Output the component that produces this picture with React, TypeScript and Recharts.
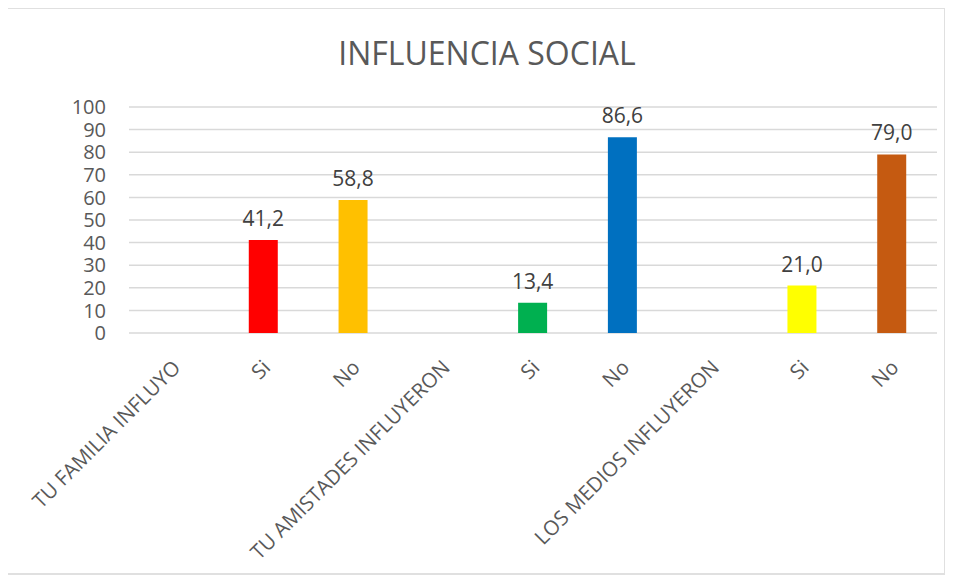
import React from "react";
import { BarChart, Bar, XAxis, YAxis, CartesianGrid, Cell, LabelList } from "recharts";

const categories = [
  "TU FAMILIA INFLUYO",
  "Si",
  "No",
  "TU AMISTADES INFLUYERON",
  "Si",
  "No",
  "LOS MEDIOS INFLUYERON",
  "Si",
  "No",
];
const values: (number | null)[] = [null, 41.2, 58.8, null, 13.4, 86.6, null, 21.0, 79.0];
const barColors = ["#ffffff", "#ff0000", "#ffc000", "#ffffff", "#00b050", "#0070c0", "#ffffff", "#ffff00", "#c55a11"];
const yTicks = [0, 10, 20, 30, 40, 50, 60, 70, 80, 90, 100];

const FONT = "'Open Sans', sans-serif";

const data = categories.map((name, i) => ({ key: `${i}`, name, value: values[i] }));

const XTick = (props: any) => {
  const { x, y, payload } = props;
  const label = categories[Number(payload.value)];
  return (
    <g transform={`translate(${x + 4},${y + 24})`}>
      <text
        x={0}
        y={0}
        transform="rotate(-45)"
        textAnchor="end"
        dominantBaseline="middle"
        fill="#595959"
        fontSize={20.5}
        fontFamily={FONT}
      >
        {label}
      </text>
    </g>
  );
};

export default function App() {
  return (
    <div
      style={{
        position: "relative",
        width: 940,
        height: 568,
        marginLeft: -2,
        marginTop: -1,
        border: "2px solid #e0e0e0",
        boxSizing: "border-box",
        background: "#fff",
      }}
    >
      <div
        style={{
          position: "absolute",
          top: 22,
          left: 11,
          width: "100%",
          textAlign: "center",
          fontFamily: FONT,
          fontSize: 32,
          color: "#595959",
        }}
      >
        INFLUENCIA SOCIAL
      </div>
      <BarChart
        width={936}
        height={564}
        data={data}
        margin={{ top: 98, right: 7, left: 0, bottom: 0 }}
        barCategoryGap={0}
      >
        <CartesianGrid vertical={false} stroke="#d9d9d9" strokeWidth={1.5} />
        <XAxis
          dataKey="key"
          axisLine={false}
          tickLine={false}
          interval={0}
          height={240}
          tick={<XTick />}
        />
        <YAxis
          domain={[0, 100]}
          ticks={yTicks}
          axisLine={false}
          tickLine={false}
          tickSize={0}
          tickMargin={23}
          width={121}
          interval={0}
          tick={{ fill: "#595959", fontSize: 20, fontFamily: FONT }}
        />
        <Bar dataKey="value" barSize={29} isAnimationActive={false}>
          {data.map((d, i) => (
            <Cell key={d.key} fill={barColors[i]} />
          ))}
          <LabelList
            dataKey="value"
            position="top"
            offset={14}
            fill="#404040"
            fontSize={21}
            fontFamily={FONT}
            formatter={(v: any) => (v == null ? "" : Number(v).toFixed(1).replace(".", ","))}
          />
        </Bar>
      </BarChart>
    </div>
  );
}
